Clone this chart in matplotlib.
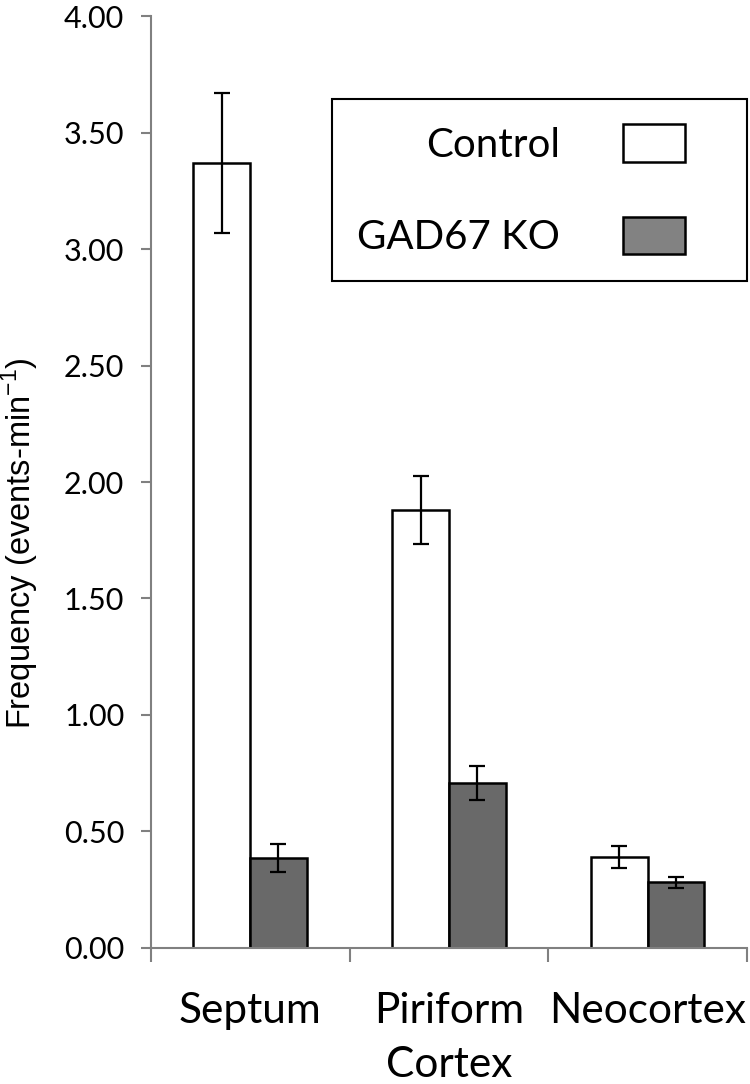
import matplotlib
matplotlib.use('Agg')
from matplotlib import pyplot as plt
from matplotlib.patches import Patch, Rectangle
from matplotlib.legend_handler import HandlerPatch
import numpy as np

# Data
regions = ['Septum', 'Piriform\nCortex', 'Neocortex']
control = [3.37, 1.88, 0.39]
control_err = [0.30, 0.145, 0.048]
ko = [0.385, 0.707, 0.281]
ko_err = [0.06, 0.074, 0.023]
yticks = [0.0, 0.5, 1.0, 1.5, 2.0, 2.5, 3.0, 3.5, 4.0]

plt.rcParams['font.family'] = ['Lato', 'DejaVu Sans']

fig = plt.figure(figsize=(7.5, 10.84), dpi=100)
ax = fig.add_axes([0.201, 0.1255, 0.795, 0.8597])

x = np.arange(len(regions)) + 0.5
w = 0.285
ekw = dict(elinewidth=1.6, capthick=1.6, capsize=5.8, ecolor='black')

ax.bar(x - w / 2, control, w, color='white', edgecolor='black', linewidth=1.8,
       yerr=control_err, error_kw=ekw, zorder=2)
ax.bar(x + w / 2, ko, w, color='#696969', edgecolor='black', linewidth=1.8,
       yerr=ko_err, error_kw=ekw, zorder=2)

ax.set_xlim(0, 3)
ax.set_ylim(0, 4)
ax.set_yticks(yticks)
ax.set_yticklabels(['%.2f' % v for v in yticks], fontsize=22)

# category labels between boundary ticks (Excel style)
ax.set_xticks([0, 1, 2, 3])
ax.set_xticklabels([])
ax.set_xticks(x, minor=True)
ax.set_xticklabels(regions, minor=True, fontsize=30.5, linespacing=1.5)
ax.tick_params(axis='x', which='minor', length=0, pad=32)
ax.tick_params(axis='x', which='major', length=10, width=1.5, color='#808080',
               direction='out')
ax.tick_params(axis='y', length=7, width=1.5, color='#808080', direction='out', pad=12)

for s in ['top', 'right']:
    ax.spines[s].set_visible(False)
for s in ['left', 'bottom']:
    ax.spines[s].set_color('#808080')
    ax.spines[s].set_linewidth(1.5)

fig.text(0.026, 1 - 543 / 1084, r'Frequency (events-min$^{\mathregular{-1}}$)',
         rotation=90, ha='center', va='center', fontsize=23.5,
         family=['Liberation Sans', 'DejaVu Sans'])


# swatch drawn narrower than its slot so the box has extra room on the right
def swatch(legend, orig_handle, xdescent, ydescent, width, height, fontsize):
    return Rectangle((-xdescent, -ydescent), width * 0.625, height)


handles = [Patch(facecolor='white', edgecolor='black', linewidth=1.8),
           Patch(facecolor='#828282', edgecolor='black', linewidth=1.8)]
leg = ax.legend(handles, ['Control', 'GAD67 KO'], loc='upper right',
                bbox_to_anchor=(1.0, 0.9105), markerfirst=False, fontsize=29,
                handlelength=2.46, handleheight=1.04, handletextpad=1.56,
                labelspacing=1.32, borderpad=0.62, borderaxespad=0,
                fancybox=False, framealpha=1, edgecolor='black',
                handler_map={Patch: HandlerPatch(patch_func=swatch)})
leg.get_frame().set_linewidth(1.5)

fig.savefig('out.png', dpi=100)
